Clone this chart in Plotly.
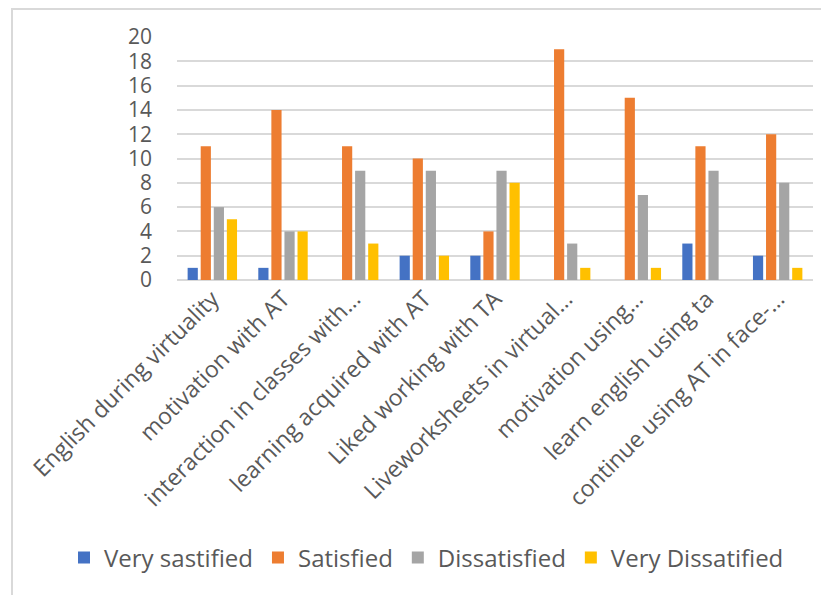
import plotly.graph_objects as go

categories = [
    "English during virtuality",
    "motivation with AT",
    "interaction in classes with…",
    "learning acquired with AT",
    "Liked working with TA",
    "Liveworksheets in virtual…",
    "motivation using…",
    "learn english using ta",
    "continue using AT in face-…",
]
very_satisfied = [1, 1, 0, 2, 2, 0, 0, 3, 2]
satisfied = [11, 14, 11, 10, 4, 19, 15, 11, 12]
dissatisfied = [6, 4, 9, 9, 9, 3, 7, 9, 8]
very_dissatisfied = [5, 4, 3, 2, 8, 1, 1, 0, 1]

series_names = ["Very sastified", "Satisfied", "Dissatisfied", "Very Dissatified"]
series_values = [very_satisfied, satisfied, dissatisfied, very_dissatisfied]
colors = ["#4472C4", "#ED7D31", "#A5A5A5", "#FFC000"]

# page has an 8px body margin, so the figure is sized to fit the window
W, H = 821, 587
ml, mr, mt, mb = 169, 16, 29, 315

fig = go.Figure()
for name, vals, col in zip(series_names, series_values, colors):
    fig.add_trace(go.Bar(x=categories, y=vals, name=name, marker_color=col,
                         marker_line_width=0))

ph = H - mt - mb
pw = W - ml - mr
fig.update_layout(
    width=W, height=H,
    margin=dict(l=ml, r=mr, t=mt, b=mb, autoexpand=False),
    paper_bgcolor="white", plot_bgcolor="white",
    barmode="group", bargap=0.26, bargroupgap=0.22,
    font=dict(family="Open Sans", color="#595959"),
    showlegend=True,
    legend=dict(orientation="h", xref="paper", yref="paper",
                x=(56 - ml) / pw, xanchor="left",
                y=-(550 - (mt + ph)) / ph, yanchor="middle",
                font=dict(size=24, color="#595959"),
                itemwidth=30, tracegroupgap=0),
    xaxis=dict(tickangle=-45, tickfont=dict(size=23, color="#595959"),
               showgrid=False, showline=False, ticks="", automargin=False),
    yaxis=dict(range=[0, 20], dtick=2, tickfont=dict(size=21, color="#595959"),
               gridcolor="#D9D9D9", gridwidth=1.5, zeroline=True,
               zerolinecolor="#D9D9D9", zerolinewidth=1.5, ticks="",
               ticklabelstandoff=24, automargin=False),
    shapes=[dict(type="rect", xref="paper", yref="paper",
                 x0=-(ml - 4) / pw, x1=(W - ml + 60) / pw,
                 y0=-(H - mt - ph + 60) / ph, y1=(H - mb - 1) / ph,
                 line=dict(color="#D9D9D9", width=2), fillcolor="rgba(0,0,0,0)",
                 layer="below")],
)

fig.write_html("out.html")
